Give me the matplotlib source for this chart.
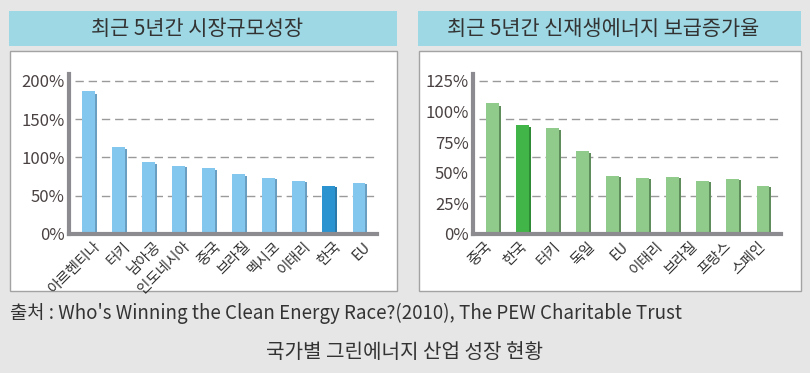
import numpy as np
import matplotlib.pyplot as plt
from matplotlib.patches import Rectangle

# data
left_title = "최근 5년간 시장규모성장"
left_labels = ["아르헨티나", "터키", "남아공", "인도네시아", "중국", "브라질", "멕시코", "이태리", "한국", "EU"]
left_values = [187, 114, 94, 89, 86, 78, 73, 69, 63, 67]
left_ticks = [0, 50, 100, 150, 200]

right_title = "최근 5년간 신재생에너지 보급증가율"
right_labels = ["중국", "한국", "터키", "독일", "EU", "이태리", "브라질", "프랑스", "스페인"]
right_values = [107, 89, 86.6, 67.8, 47.4, 45.8, 46.6, 43.3, 44.9, 39.2]
right_ticks = [0, 25, 50, 75, 100, 125]

source = "출처 : Who's Winning the Clean Energy Race?(2010), The PEW Charitable Trust"
caption = "국가별 그린에너지 산업 성장 현황"

W, H = 810, 373
BG = "#e6e6e6"
NARROW = ["Liberation Sans Narrow", "Noto Sans CJK KR", "DejaVu Sans"]
KR = ["Noto Sans CJK KR", "DejaVu Sans"]

fig = plt.figure(figsize=(W / 100, H / 100), dpi=100, facecolor=BG)


def px_axes(x0, y0, x1, y1, **kw):
    # pixel box (top-left origin) -> figure axes
    return fig.add_axes([x0 / W, 1 - y1 / H, (x1 - x0) / W, (y1 - y0) / H], **kw)


def frame(x0, x1, title):
    bg = px_axes(0, 0, W, H)
    bg.set_axis_off()
    bg.set_xlim(0, W)
    bg.set_ylim(H, 0)
    bg.add_patch(Rectangle((x0, 11), x1 - x0, 35, facecolor="#9dd8e4", edgecolor="none"))
    bg.add_patch(Rectangle((x0 + 1, 51), x1 - x0 - 1, 240, facecolor="white", edgecolor="#a3a3a3", lw=1))
    bg.text((x0 + x1) / 2 - 6, 29, title, family=KR, fontsize=15, color="#333333",
            ha="center", va="center")


def bars(x0, x1, values, labels, tick_vals, ymax, color, shadow, hi_color, hi_shadow, hi_idx,
         label_pos):
    ax = px_axes(x0, 74, x1, 234)
    ax.set_facecolor("none")
    n = len(values)
    x = np.arange(n)
    top = ymax * 160 / 153
    cols = [hi_color if i == hi_idx else color for i in range(n)]
    scols = [hi_shadow if i == hi_idx else shadow for i in range(n)]
    off = 2 / 30.2
    ax.bar(x + off, np.array(values) * 0.98, width=0.43, color=scols, zorder=2)
    ax.bar(x, values, width=0.43, color=cols, zorder=3)
    ax.set_xlim(-0.65, n - 1 + 0.6)
    ax.set_ylim(0, top)
    # dashed guide lines (4 equal steps, as drawn in the original)
    for g in np.linspace(0, ymax, 5)[1:]:
        ax.axhline(g, xmin=0.02, xmax=1, color="#9a9a9a", lw=1, ls=(0, (6, 3.5)), zorder=1)
    ax.set_yticks(tick_vals)
    ax.set_yticklabels([f"{v}%" for v in tick_vals], family=NARROW, fontsize=12, color="#4a4242")
    ax.tick_params(axis="y", length=0, pad=3)
    ax.set_xticks(label_pos)
    ax.set_xticklabels(labels, family=KR, fontsize=10.5, color="#333333", rotation=45,
                       ha="right", va="top", rotation_mode="anchor")
    ax.tick_params(axis="x", length=0, pad=4)
    for s in ["top", "right"]:
        ax.spines[s].set_visible(False)
    for s in ["left", "bottom"]:
        ax.spines[s].set_color("#8b8b90")
        ax.spines[s].set_linewidth(3)
        ax.spines[s].set_zorder(5)
    return ax


frame(9, 397, left_title)
frame(418, 801, right_title)

bars(69, 377, left_values, left_labels, left_ticks, 200,
     "#83c7ee", "#6b9fc2", "#2b93cf", "#2a79a9", 8,
     np.arange(len(left_labels)) + 0.15)
bars(473, 781, right_values, right_labels, right_ticks, 125,
     "#90cb8c", "#5f8e5c", "#42b549", "#2f8a35", 1,
     np.linspace(-0.25, len(right_values) - 1.15, len(right_labels)))

fig.text(10 / W, 1 - 313 / H, source, family=NARROW, fontsize=13.5, color="#333333",
         ha="left", va="center")
fig.text(405 / W, 1 - 353 / H, caption, family=KR, fontsize=14.5, color="#333333",
         ha="center", va="center")

fig.savefig("out.png", dpi=100, facecolor=BG)
